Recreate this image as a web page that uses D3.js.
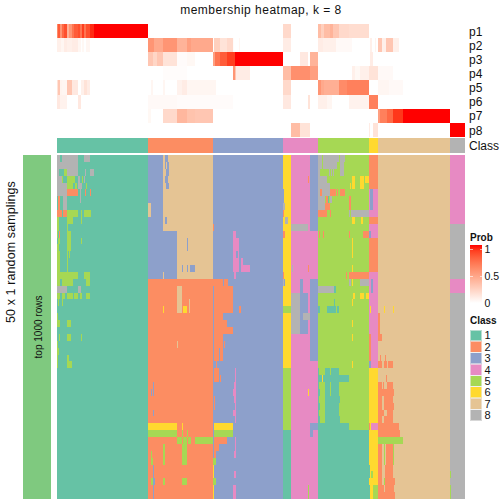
<!DOCTYPE html>
<html><head><meta charset="utf-8">
<script src="https://cdnjs.cloudflare.com/ajax/libs/d3/7.8.5/d3.min.js"></script>
<style>html,body{margin:0;padding:0;background:#fff}svg{display:block}text{font-family:"Liberation Sans",Arial,sans-serif;fill:#111}</style>
</head><body><div id="chart"></div>
<script>
const classIds=[1,2,3,4,5,6,7,8];
const classColors=["#66C2A5","#FC8D62","#8DA0CB","#E78AC3","#A6D854","#FFD92F","#E5C494","#B3B3B3"];
const pLabels=["p1","p2","p3","p4","p5","p6","p7","p8"];
const consensusClass=[[0,90.7,1],[90.7,156,2],[156,226,3],[226,261,4],[261,312,5],[312,321,6],[321,393,7],[393,408,8]];
// membership runs: [from column, to column, probability]
const p1=[[0,1,.6],[1,3,.8],[3,5,.55],[5,7,.75],[7,10,.85],[10,12,.4],[12,15,.55],[15,17,.7],[17,21,.8],[21,23,.85],[23,25,.7],[25,27,.9],[27,29,.7],[29,33,.85],[33,37,.95],[37,90.7,1],[226,234,.2],[261,264,.35],[264,267,.25],[267,273,.35],[273,276,.4],[276,282,.3],[282,292,.2],[292,312,.18]];
const p2=[[0,4,.08],[4,7,.05],[7,10,.1],[10,15,.08],[15,21,.1],[21,24,.05],[25,27,.04],[29,33,.05],[90.7,97,.55],[97,106,.45],[106,120,.55],[120,130,.4],[130,134,.5],[134,155.5,.45],[157,163,.25],[163,170,.15],[170,176,.2],[176,177,.02],[182,183,.05],[226,234,.1],[261,266,.1],[266,279,.08],[279,295,.03],[313,315,.08],[318,319,.06],[321,325,.3],[325,329,.08],[329,336,.3],[336,342,.08]];
const p3=[[90.7,96,.3],[96,100,.22],[100,106,.3],[106,120,.15],[120,130,.02],[130,138,.04],[156,158,.5],[158,163,.7],[163,170,.8],[170,178,.9],[178,226,1],[243,251,.12],[253,261,.4],[313,316,.1]];
const p4=[[106,130,.015],[176,178,.55],[178,179,.3],[179,193,.1],[226,234,.35],[234,253,.58],[253,261,.5],[295,298,.08],[298,303,.04],[303,312,.08],[312,321,.15],[321,336,.03]];
const p5=[[0,1,.15],[1,3,.3],[3,5,.06],[5,10,.05],[10,15,.3],[15,21,.12],[24,27,.08],[27,30,.15],[30,33,.1],[94,96,.05],[106,108,.05],[120,125,.07],[125,130,.1],[130,159,.05],[226,234,.2],[261,264,.55],[264,267,.45],[267,282,.42],[282,290,.6],[290,295,.65],[295,312,.65],[321,332,.05],[332,346,.03]];
const p6=[[0,3,.12],[3,10,.07],[21,24,.12],[90.7,120,.03],[120,176,.02],[226,234,.12],[251,253,.15],[261,270,.08],[270,275,.05],[292,312,.07],[312,321,.65]];
const p7=[[90.7,94,.04],[106,120,.2],[120,130,.38],[130,138,.32],[138,156,.3],[321,323,.5],[323,330,.65],[330,336,.75],[336,346,.92],[346,393,1]];
const p8=[[234,243,.35],[243,253,.15],[312,313,.1],[316,321,.15],[393,408,1]];
const pRuns=[p1,p2,p3,p4,p5,p6,p7,p8];
// class bands: [from col, to col, from row, to row, class]
const bands=[[0,90.7,0,50,1],[90.7,106,0,11,3],[106,156,0,11,7],[90.7,120,11,18,3],[120,156,11,18,7],[90.7,156,18,50,2],
[156,226,0,50,3],[226,234,0,31,6],[226,234,31,40,5],[226,234,40,50,1],[234,253,0,50,4],[253,261,0,11,3],[253,261,11,18,4],[253,261,18,30,3],[253,261,30,50,4],
[261,312,0,40,5],[261,312,40,50,1],[312,321,0,5,2],[312,321,5,9,4],[312,321,9,10,2],[312,321,10,12,4],[312,321,12,17,2],[312,321,17,31,4],[312,321,31,39,6],[312,321,39,40,4],[312,321,40,50,6],
[321,393,0,50,7],[393,408,0,10,4],[393,408,10,18,8],[393,408,18,20,4],[393,408,20,50,8]];
// per-row deviations: [from col, to col, class]
const rowPatches=[
[[0,3,8],[5,21,8],[27,33,8],[108,111,3],[261,265,8],[266,282,8],[283.3,288,8]],
[[0,21,8],[108,109,3],[110,112,3],[261,265,8],[266,280,8],[283,287,8]],
[[0,2,8],[7,10,5],[10,21,8],[28,29,8],[33,37,8],[109,112,3],[261,263,8],[272,273,8],[274,275,8],[276,277,8],[283,287,8]],
[[0,5,8],[5,6,5],[10,18,5],[21,23,8],[25,26,5],[27,28,8],[108,111,3],[251,252,2],[261,270,8],[295,298,6],[303,307,6],[308,312,6]],
[[0,10,8],[10,16,5],[18,20,5],[21,25,8],[29,30,5],[109,112,3],[261,273,8],[293,294,6],[295,298,6],[303,307,6]],
[[0,10,8],[10,21,2],[23,24,8],[28,29,2],[33,34,2],[226,227,3],[261,263,8],[263,265,2],[265,273,8],[273,279,2],[280,281,2],[283,288,2],[313,316,3]],
[[1,3,2],[6.3,10,8],[23,24,8],[226,227,3],[261,268,8],[269,271,2],[271,272,1],[273,275,8],[292,294,2],[313,316,3]],
[[1,3,2],[6.3,10,8],[91,94,7],[226,228,8],[261,268,8],[268,273,2],[292,294,2],[313,316,3]],
[[0,5,2],[6.3,10,2],[10,21,5],[24,25,5],[27,34,5],[91,94,7],[226,227,2],[261,270,2],[273,274,2],[292,293,8],[294,312,8]],
[[0,2,5],[10,16,5],[24,25,5],[108,110,3],[228,231,8],[295,298,6],[304,306,6]],
[[0,2,5],[10,11,5],[156,157,2],[234,251,8]],
[[0,1,5],[2,3,2],[10,14,5],[176,179,4],[226,228,2],[262,263,2],[266,267,2],[292,293,2],[306,312,2],[312,314,3]],
[[1,3,5],[10,14,5],[24,25,5],[130,131,3],[176,182,4],[295,296,6]],
[[0,2,5],[10,14,5],[130,131,3],[176,182,4],[295,296,6]],
[[0,3,5],[10,11,5],[12,13,5],[176,179,4],[181,182,4],[295,296,6]],
[[0,3,5],[10,11,5],[176,182,4],[184,186,4]],
[[0,3,5],[10,11,5],[125,126,3],[130,131,3],[133,138,3],[176,182,4],[184,193,4],[235,236,8],[251,252,2],[295,296,6]],
[[0,21,5],[27,33,5],[106,107,7],[177,179,4],[226,227,2],[289,290,2],[292,312,2]],
[[0,3,5],[5,16,5],[29,33,5],[156,166,2],[167,171,2],[226,227,8],[227,228,3],[243,246,3],[292,294,8],[295,296,6],[303,312,8],[314,316,3]],
[[0,10,8],[21,24,8],[120,125,7],[157,176,2],[243,246,3],[261,277,8],[277,279,1],[314,316,3]],
[[0,3,5],[5,8,5],[10,16,5],[17,21,5],[23,25,5],[29,33,5],[120,125,7],[157,176,2],[234,243,8],[243,251,3],[296,298,6],[303,307,6],[309,312,6]],
[[1,2,5],[5,6,5],[120,125,7],[132,133,7],[157,176,2],[182,183,3],[234,243,8],[243,251,3],[277,278,1],[295,296,6]],
[[106,107,6],[120,125,7],[126,130,6],[132,133,7],[157,176,2],[182,184,2],[226,234,5],[234,243,8],[243,251,3],[261,263,1],[270,279,1],[280,282,1],[313,314,6],[327,328,6],[336,337,6]],
[[0,1,5],[157,166,2],[234,243,8],[243,246,3],[246,253,8],[321,323,2]],
[[0,3,5],[10,14,5],[157,170,2],[234,243,8],[243,251,3],[295,296,6],[321,323,2]],
[[157,176,2],[234,243,8],[243,251,3],[321,323,2]],
[[2,3,5],[10,14,5],[24,25,5],[157,166,2],[295,296,6],[312,314,2],[321,325,2]],
[[0,1,5],[120,121,7],[157,166,2],[167,168,2],[312,314,2]],
[[0,2,5],[157,162,2],[163,166,2],[312,314,2]],
[[0,1,5],[10,12,5],[157,162,2],[163,166,2],[312,314,2],[323,324,2],[328,329,2]],
[[0,1,5],[10,15,5],[159,160,2],[295,296,6],[312,314,3],[321,325,2],[327,330,2],[331,336,2]],
[[157,162,2],[178,179,4],[261,262,1],[268,273,1],[274,282,1]],
[[157,162,2],[163,164,2],[178,179,4],[261,292,1],[265,266,6],[329,330,2]],
[[96,97,3],[177,179,4],[261,262,1],[268,273,1],[274,282,1],[321,325,2],[326,327,2],[330,336,2]],
[[94,95,3],[96,97,3],[176,179,4],[251,252,6],[261,263,1],[268,273,1],[274,282,1],[321,337,2]],
[[157,158,2],[177,179,4],[261,262,1],[268,283,1],[321,325,2],[327,336,2]],
[[157,158,2],[178,179,4],[261,263,1],[268,282,1],[321,325,2],[327,337,2]],
[[96,97,3],[176,179,4],[261,262,1],[268,282,1],[321,327,2],[330,336,2]],
[[178,179,4],[261,263,1],[268,283,1],[321,325,2],[327,336,2]],
[[90.7,120,6],[125,126,6],[157,176,6],[253,261,3],[261,292,1],[312,313,2],[313,314,6],[321,342,2]],
[[90.7,120,5],[125,126,5],[130,131,5],[157,176,5],[253,256,3],[321,343,2]],
[[120,125,5],[126,130,5],[131,134,5],[138,156,5],[157,170,2],[178,179,4],[321,346,5]],
[[106,108,5],[125,130,5],[157,162,2],[178,179,4],[321,325,2],[327,328,5],[329,336,2],[336,337,5]],
[[94,95,5],[106,108,5],[125,130,5],[157,159,2],[177,179,4],[321,325,2],[327,328,5],[329,336,2],[336,337,5]],
[[94,96,5],[106,108,5],[125,130,5],[156,159,5],[321,325,2],[327,328,5],[329,336,2],[336,337,5]],
[[96,97,3],[156,157,6],[312,313,1],[321,325,2],[328,336,2]],
[[96,97,3],[156,157,6],[177,179,4],[312,313,1],[314,316,5],[321,325,2],[328,336,2],[393,394,5]],
[[94,96,5],[96,98,3],[106,108,5],[125,130,5],[156,159,5],[321,325,2],[327,328,5],[328,338,2]],
[[96,97,3],[156,157,6],[176,179,4],[251,252,5],[312,313,1],[316,321,5],[321,327,2],[328,337,2],[393,394,5]],
[[96,97,3],[156,157,6],[176,179,4],[251,252,5],[312,313,1],[316,321,5],[321,338,2],[393,394,5]]
];
const legendTicks=[1,0.5,0];

const W=504,H=504;
const svg=d3.select("#chart").append("svg").attr("width",W).attr("height",H);
svg.attr("shape-rendering","crispEdges");
const x=d3.scaleLinear().domain([0,408]).range([57,465]);
const yRow=d3.scaleLinear().domain([0,50]).range([155,499]);
const yP=d3.scaleBand().domain(pLabels).range([24,136.8]).paddingInner(0);
const cls=d3.scaleOrdinal().domain(classIds).range(classColors);
const prob=d3.scaleLinear().domain([0,1]).range(["#ffffff","#ff0000"]).interpolate(d3.interpolateLab);

// membership strips
pLabels.forEach((p,i)=>{
  svg.append("g").selectAll("rect").data(pRuns[i]).join("rect")
    .attr("x",d=>x(d[0])).attr("width",d=>x(d[1])-x(d[0]))
    .attr("y",yP(p)).attr("height",yP.bandwidth())
    .attr("fill",d=>prob(d[2]));
  svg.append("text").attr("x",469).attr("y",yP(p)+yP.bandwidth()/2+4.8).attr("font-size",12).text(p);
});
// class strip
svg.append("g").selectAll("rect").data(consensusClass).join("rect")
  .attr("x",d=>x(d[0])).attr("width",d=>x(d[1])-x(d[0]))
  .attr("y",138).attr("height",15).attr("fill",d=>cls(d[2]));
svg.append("text").attr("x",469).attr("y",150).attr("font-size",12).text("Class");

// body
svg.append("g").selectAll("rect").data(bands).join("rect")
  .attr("x",d=>x(d[0])).attr("width",d=>x(d[1])-x(d[0]))
  .attr("y",d=>yRow(d[2])).attr("height",d=>yRow(d[3])-yRow(d[2]))
  .attr("fill",d=>cls(d[4]));
rowPatches.forEach((row,r)=>{
  svg.append("g").selectAll("rect").data(row).join("rect")
    .attr("x",d=>x(d[0])).attr("width",d=>x(d[1])-x(d[0]))
    .attr("y",yRow(r)).attr("height",yRow(r+1)-yRow(r))
    .attr("fill",d=>cls(d[2]));
});
// left annotation
svg.append("rect").attr("x",23).attr("y",yRow(0)).attr("width",28).attr("height",yRow(50)-yRow(0)).attr("fill","#7FC97F");
svg.append("text").attr("transform","translate(15,252) rotate(-90)").attr("text-anchor","middle").attr("font-size",12.5).attr("letter-spacing",.1).text("50 x 1 random samplings");
svg.append("text").attr("transform","translate(41.5,327) rotate(-90)").attr("text-anchor","middle").attr("font-size",10).text("top 1000 rows");
// title
svg.append("text").attr("x",261).attr("y",14).attr("text-anchor","middle").attr("font-size",12).attr("letter-spacing",.5).text("membership heatmap, k = 8");

// prob legend
const defs=svg.append("defs");
const grad=defs.append("linearGradient").attr("id","g").attr("x1",0).attr("x2",0).attr("y1",1).attr("y2",0);
d3.range(0,1.01,.1).forEach(t=>grad.append("stop").attr("offset",t).attr("stop-color",prob(t)));
const yLeg=d3.scaleLinear().domain([0,1]).range([303,249]);
svg.append("text").attr("x",470).attr("y",241).attr("font-size",10).attr("font-weight","bold").text("Prob");
svg.append("rect").attr("x",470).attr("y",245).attr("width",12).attr("height",58).attr("fill","url(#g)");
legendTicks.forEach(t=>{
  [[470,2.5],[479.5,2.5]].forEach(s=>svg.append("rect").attr("x",s[0]).attr("width",s[1]).attr("y",yLeg(t)-.5).attr("height",1).attr("fill","#fff").attr("opacity",.6));
  svg.append("text").attr("x",484.5).attr("y",yLeg(t)+3.8).attr("font-size",10.5).text(t);
});
// class legend
svg.append("text").attr("x",470).attr("y",324).attr("font-size",10).attr("font-weight","bold").text("Class");
const yC=d3.scaleBand().domain(classIds).range([330,421]);
svg.append("g").selectAll("rect").data(classIds).join("rect")
  .attr("x",470).attr("y",d=>yC(d)).attr("width",11.6).attr("height",yC.bandwidth()-.4)
  .attr("stroke","#eee").attr("stroke-width",.6).attr("fill",d=>cls(d));
svg.append("g").selectAll("text").data(classIds).join("text")
  .attr("x",484.5).attr("y",d=>yC(d)+yC.bandwidth()/2+3.8).attr("font-size",11).text(d=>d);
</script></body></html>
